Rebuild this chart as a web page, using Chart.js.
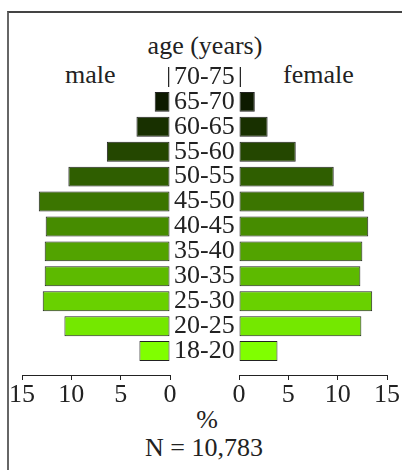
<!DOCTYPE html>
<html><head><meta charset="utf-8">
<script src="https://cdn.jsdelivr.net/npm/chart.js@4"></script>
<style>
html,body{margin:0;padding:0;background:#fff;}
body{width:402px;height:470px;position:relative;overflow:hidden;font-family:'Liberation Serif','Times New Roman',serif;color:#222;}
#frame{position:absolute;left:7px;top:11px;width:400px;height:470px;border-left:2px solid #666;border-top:2px solid #444;}
.t{position:absolute;font-size:26px;line-height:26px;white-space:nowrap;}
#cl{position:absolute;left:0;top:0;}
#cr{position:absolute;left:229px;top:0;}
</style></head><body>
<div id="frame"></div>
<div class="t" style="left:0;width:410px;text-align:center;top:33px">age (years)</div>
<div class="t" style="left:65px;top:62px">male</div>
<div class="t" style="left:283px;top:62px">female</div>
<div class="t" style="left:0;width:414px;text-align:center;top:407px">%</div>
<div class="t" style="left:0;width:408px;text-align:center;top:435px">N = 10,783</div>
<canvas id="cl" width="240" height="405"></canvas>
<canvas id="cr" width="173" height="405"></canvas>
<script>
const ages = ['18-20','20-25','25-30','30-35','35-40','40-45','45-50','50-55','55-60','60-65','65-70','70-75'];
const male = [3.1, 10.7, 12.9, 12.7, 12.7, 12.6, 13.3, 10.3, 6.4, 3.4, 1.55, 0.2];
const female = [3.9, 12.4, 13.5, 12.3, 12.5, 13.1, 12.7, 9.6, 5.75, 2.9, 1.6, 0.2];
const xTicks = [0, 5, 10, 15];
const barColors = ['#80ff00','#74e800','#69d100','#5dba00','#52a300','#468c00','#3b7500','#2f5e00','#244700','#183000','#0d1a00','#000000'];

const FONT = {family: "'Liberation Serif','Times New Roman',serif", size: 26};
const INK = '#222';

function yScale(show) {
  const s = {
    type: 'linear', min: -0.96, max: 11.5, display: show, offset: false, bounds: 'data',
    grid: {display: false, drawTicks: false, offset: false}, border: {display: false},
    afterBuildTicks: sc => { sc.ticks = ages.map((_, i) => ({value: i})); },
    ticks: {autoSkip: false, crossAlign: 'center', padding: 4, color: INK, font: FONT,
            callback: v => ages[v]}
  };
  if (show) {
    s.position = 'right';
    s.afterFit = sc => { sc.width = 70; };
  }
  return s;
}
function xScale(rev) {
  return {
    type: 'linear', min: 0, max: 15, reverse: rev, position: 'bottom',
    afterBuildTicks: s => { s.ticks = xTicks.map(v => ({value: v})); },
    grid: {drawOnChartArea: false, drawTicks: true, tickLength: 5, color: INK},
    border: {display: true, color: INK, width: 1},
    ticks: {color: INK, font: FONT, padding: 0, autoSkip: false, maxRotation: 0},
    afterFit: s => { s.height = 30; }
  };
}
function makeChart(id, values, rev, showY, padding) {
  return new Chart(document.getElementById(id), {
    type: 'bar',
    data: {
      datasets: [{
        data: values.map((v, i) => ({x: v, y: i})),
        backgroundColor: barColors,
        borderColor: INK,
        borderWidth: 1,
        borderSkipped: false,
        barPercentage: 0.8,
        categoryPercentage: 1
      }]
    },
    options: {
      indexAxis: 'y',
      responsive: false,
      animation: false,
      layout: {padding: padding},
      plugins: {legend: {display: false}, tooltip: {enabled: false}, title: {display: false}},
      scales: {x: xScale(rev), y: yScale(showY)}
    }
  });
}
makeChart('cl', male, true, true, {left: 22, top: 64.5, right: 0, bottom: 0});
makeChart('cr', female, false, false, {left: 10, top: 64.5, right: 15, bottom: 0});
</script>
</body></html>
